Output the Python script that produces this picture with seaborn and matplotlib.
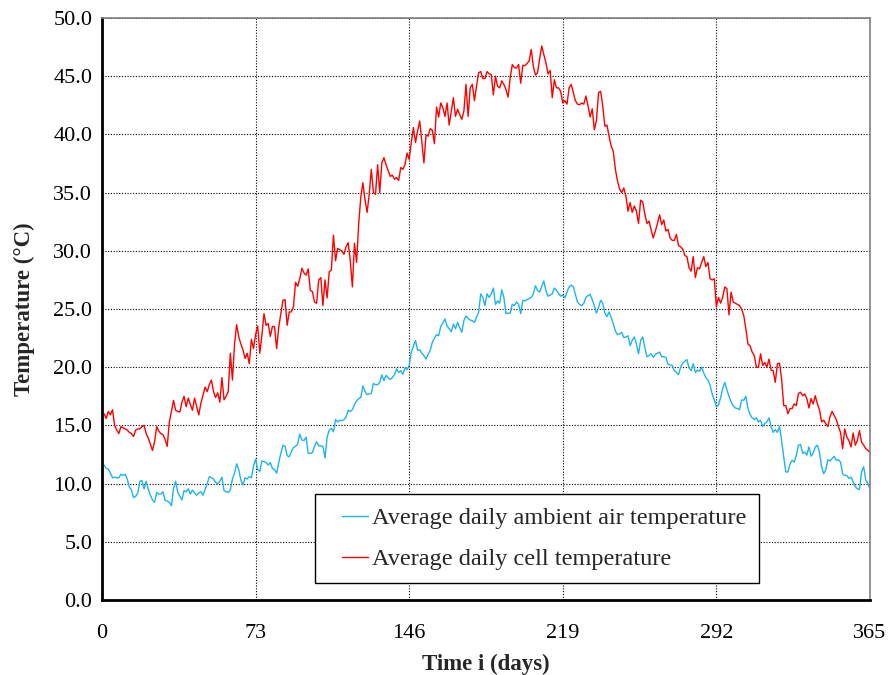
import numpy as np
import pandas as pd
import seaborn as sns
import matplotlib
matplotlib.use("Agg")
import matplotlib.pyplot as plt
from matplotlib.lines import Line2D
from matplotlib.legend_handler import HandlerLine2D

# daily values, day 1 .. 365
ambient_temp = [
    11.6, 11.3, 11.25, 10.9, 10.5, 10.55, 10.5, 10.5, 10.8, 10.7,
    10.8, 10.4, 9.7, 9.45, 8.8, 8.9, 9.2, 10.2, 10.26, 9.55,
    10.2, 9.5, 9.0, 8.6, 8.4, 9.25, 9.1, 9.1, 9.3, 8.55,
    8.5, 8.4, 8.1, 9.6, 10.2, 9.25, 8.9, 8.6, 9.4, 9.3,
    9.55, 9.1, 9.45, 9.2, 9.0, 9.2, 9.3, 9.0, 9.5, 10.0,
    10.6, 10.5, 10.4, 10.1, 10.0, 10.2, 10.55, 9.4, 9.3, 9.25,
    9.45, 10.4, 10.9, 11.7, 11.2, 10.3, 9.9, 10.5, 10.4, 10.6,
    10.5, 11.5, 12.1, 11.2, 11.05, 11.95, 11.9, 11.8, 11.6, 11.8,
    11.3, 11.2, 10.9, 11.8, 12.6, 13.3, 13.2, 12.4, 12.3, 12.75,
    13.1, 13.2, 13.4, 14.25, 13.75, 13.7, 14.0, 12.6, 12.6, 12.65,
    13.2, 13.6, 13.25, 13.25, 13.2, 12.2, 14.0, 14.6, 14.75, 14.45,
    15.5, 15.3, 15.45, 15.4, 15.5, 15.7, 16.3, 16.2, 16.35, 16.8,
    17.1, 17.3, 17.4, 18.4, 17.9, 17.65, 17.7, 17.75, 18.6, 18.5,
    18.5, 18.7, 19.35, 18.85, 19.3, 19.1, 18.95, 19.1, 19.35, 19.85,
    19.55, 19.7, 19.4, 19.95, 19.8, 20.15, 21.3, 21.8, 22.3, 21.45,
    21.5, 21.2, 21.0, 20.7, 21.1, 21.45, 22.15, 22.5, 22.8, 22.7,
    23.5, 23.8, 24.15, 23.55, 23.3, 23.05, 23.7, 23.3, 23.85, 23.4,
    23.0, 24.0, 24.4, 24.2, 24.05, 24.0, 23.85, 24.3, 24.7, 26.3,
    26.0, 25.3, 26.3, 26.0, 26.3, 26.8, 25.4, 25.7, 25.5, 26.65,
    26.0, 24.6, 24.65, 24.65, 25.4, 25.3, 25.6, 25.4, 24.6, 25.75,
    25.7, 25.8, 25.9, 26.0, 26.3, 27.0, 26.6, 26.45, 26.95, 27.4,
    26.55, 26.1, 26.2, 26.3, 26.8, 26.6, 26.35, 26.1, 26.2, 25.95,
    26.45, 26.9, 27.05, 26.95, 26.25, 25.6, 25.4, 25.3, 25.5, 26.0,
    26.15, 26.25, 25.8, 25.3, 24.65, 25.15, 25.75, 25.5, 24.65, 24.35,
    24.75, 24.25, 23.75, 23.1, 22.8, 22.85, 23.0, 22.55, 22.6, 22.7,
    21.85, 22.3, 22.6, 22.0, 21.15, 22.3, 22.6, 21.7, 20.9, 21.0,
    21.15, 20.85, 21.1, 21.2, 21.3, 20.9, 20.9, 20.85, 20.25, 20.2,
    20.15, 19.7, 19.55, 19.35, 20.0, 20.35, 20.5, 20.65, 19.95, 19.7,
    20.3, 19.55, 19.75, 19.65, 20.0, 19.5, 19.1, 18.9, 18.45, 17.7,
    17.2, 16.6, 16.75, 17.4, 18.15, 18.7, 18.05, 17.5, 17.0, 16.7,
    16.5, 16.45, 16.35, 17.2, 17.15, 17.5, 16.45, 15.95, 15.65, 15.5,
    15.65, 15.3, 15.45, 14.9, 15.15, 15.3, 15.65, 14.9, 14.4, 14.65,
    14.4, 14.9, 13.7, 12.3, 11.0, 11.0, 11.7, 12.0, 11.85, 12.45,
    13.3, 13.35, 12.6, 12.7, 12.45, 13.15, 12.35, 12.6, 13.15, 13.3,
    12.7, 11.45, 10.85, 11.2, 12.05, 11.95, 12.15, 12.35, 12.0, 12.05,
    11.85, 10.85, 10.7, 10.7, 10.45, 10.55, 10.15, 9.75, 9.55, 9.5,
    11.0, 11.45, 10.3, 10.0, 9.55,
]

cell_temp = [
    16.0, 15.6, 16.2, 15.9, 16.35, 15.0, 14.6, 14.3, 14.9, 14.8,
    14.7, 14.6, 14.4, 14.3, 14.05, 14.6, 14.7, 14.7, 14.9, 15.0,
    14.3, 13.9, 13.4, 12.85, 13.6, 14.9, 14.5, 14.3, 14.2, 13.8,
    13.2, 15.3, 16.2, 17.15, 16.3, 16.2, 16.15, 17.0, 17.5, 16.6,
    17.35, 16.8, 16.3, 17.35, 16.6, 15.9, 16.9, 17.6, 18.3, 17.9,
    18.5, 18.9, 17.9, 17.4, 17.8, 17.0, 19.1, 17.2, 17.5, 17.9,
    21.2, 18.9, 22.0, 23.65, 22.6, 22.0, 21.5, 20.75, 21.2, 20.3,
    22.4, 21.6, 22.8, 23.55, 21.2, 22.75, 24.6, 23.6, 23.75, 22.65,
    23.5, 23.5, 21.6, 23.45, 24.6, 25.75, 25.8, 23.6, 24.75, 24.75,
    25.2, 27.3, 26.95, 27.6, 28.5, 28.1, 27.9, 28.45, 26.6, 26.5,
    25.6, 25.5, 27.5, 27.7, 25.3, 27.5, 25.95, 28.2, 28.35, 31.35,
    29.15, 30.2, 30.1, 30.0, 29.7, 30.35, 30.7, 29.15, 26.9, 30.65,
    29.0, 32.3, 34.6, 35.85, 34.4, 33.3, 34.85, 37.0, 35.0, 34.85,
    37.4, 35.0, 37.55, 38.0, 37.4, 36.9, 36.4, 36.5, 36.15, 36.3,
    36.05, 37.15, 37.0, 37.4, 38.4, 37.85, 39.3, 40.6, 39.3, 40.3,
    41.15, 39.4, 37.55, 39.95, 39.85, 40.5, 40.35, 39.2, 42.35, 41.5,
    42.7, 42.3, 41.55, 42.7, 40.8, 42.0, 43.15, 41.55, 42.15, 41.7,
    41.3, 42.0, 44.3, 41.55, 44.0, 44.3, 42.9, 44.15, 45.3, 45.4,
    44.8, 44.8, 45.4, 45.2, 45.15, 43.4, 45.0, 44.15, 44.0, 44.6,
    44.3, 43.85, 43.2, 44.85, 46.0, 45.75, 45.7, 46.0, 44.4, 45.95,
    45.9, 46.1, 46.3, 47.3, 45.85, 45.1, 45.3, 46.5, 47.6, 46.85,
    46.15, 45.2, 45.5, 43.15, 44.7, 44.0, 44.0, 43.7, 42.7, 42.9,
    42.6, 44.0, 44.3, 43.6, 42.9, 42.6, 42.55, 42.7, 42.6, 43.3,
    42.45, 41.5, 42.2, 40.4, 41.2, 43.6, 43.7, 42.45, 40.7, 40.8,
    39.85, 39.0, 38.55, 37.0, 36.0, 35.3, 35.0, 35.4, 34.7, 33.4,
    34.15, 33.3, 33.85, 33.4, 32.35, 34.35, 34.2, 33.15, 32.35, 32.55,
    31.8, 31.1, 31.7, 32.35, 33.1, 32.25, 32.65, 31.7, 31.85, 31.1,
    30.9, 30.9, 31.4, 30.45, 30.35, 30.15, 29.6, 29.5, 28.55, 28.25,
    29.5, 27.7, 28.55, 28.45, 29.0, 29.5, 28.65, 29.0, 27.6, 27.5,
    27.6, 25.2, 26.0, 25.5, 26.0, 26.9, 26.75, 24.5, 26.45, 25.6,
    25.5, 25.4, 25.3, 25.0, 24.45, 23.3, 22.0, 21.85, 21.3, 21.0,
    20.0, 20.0, 21.15, 20.15, 20.4, 20.0, 20.7, 19.75, 19.7, 18.7,
    20.3, 20.35, 19.0, 16.7, 16.7, 16.0, 16.45, 16.45, 16.85, 16.7,
    17.75, 17.85, 17.55, 17.7, 17.3, 16.5, 17.3, 16.85, 17.55, 16.85,
    16.35, 15.3, 15.45, 15.15, 14.9, 15.75, 16.2, 15.85, 15.5, 14.9,
    14.4, 13.0, 14.7, 14.0, 13.7, 13.15, 14.35, 13.3, 13.7, 14.55,
    13.55, 13.3, 13.0, 12.85, 12.7,
]

series_names = ["Average daily ambient air temperature", "Average daily cell temperature"]
line_colors = ["#1eb4ec", "#ff0000"]
x_ticks = [0, 73, 146, 219, 292, 365]
y_ticks = [0, 5, 10, 15, 20, 25, 30, 35, 40, 45, 50]

days = np.arange(1, len(cell_temp) + 1)
df = pd.DataFrame({
    "day": np.concatenate([days, days]),
    "temp": ambient_temp + cell_temp,
    "series": [series_names[0]] * len(ambient_temp) + [series_names[1]] * len(cell_temp),
})

sns.set_style("white")
plt.rcParams["font.family"] = ["Liberation Serif", "DejaVu Serif"]

fig = plt.figure(figsize=(8.9, 6.75), dpi=100)
ax = fig.add_axes([0.1146, 0.1111, 0.8629, 0.8622])

sns.lineplot(data=df, x="day", y="temp", hue="series", hue_order=series_names,
             palette=line_colors, linewidth=1.0, ax=ax)

ax.set_xlim(0, 365)
ax.set_ylim(0, 50)
ax.set_xticks(x_ticks)
ax.set_yticks(y_ticks)
ax.set_yticklabels([f"{v:.1f}" for v in y_ticks])
ax.tick_params(axis="both", labelsize=16, length=5, width=1, color="black",
               direction="out", colors="black")
ax.tick_params(axis="y", pad=2)
ax.tick_params(axis="x", pad=12)

ax.grid(True, color="black", linestyle=(0, (1, 1.5)), linewidth=0.8)
ax.set_axisbelow(True)

for side in ["left", "bottom"]:
    ax.spines[side].set_color("black")
    ax.spines[side].set_linewidth(2)
for side in ["top", "right"]:
    ax.spines[side].set_color("#808080")
    ax.spines[side].set_linewidth(1.2)

ax.set_xlabel("Time i (days)", fontsize=16.5, fontweight="bold", labelpad=8)
ax.set_ylabel("Temperature (°C)", fontsize=16.5, fontweight="bold", labelpad=13)

handles, labels = ax.get_legend_handles_labels()
leg = ax.legend(handles, labels, loc="lower left", bbox_to_anchor=(0.2773, 0.029),
                fontsize=17.5, frameon=True, fancybox=False, edgecolor="black",
                framealpha=1, handlelength=1.66, handletextpad=0.18,
                borderpad=0.52, labelspacing=0.8, borderaxespad=0,
                handler_map={Line2D: HandlerLine2D(xpad=0.6)})
leg.get_frame().set_linewidth(1.0)

fig.savefig("out.png", dpi=100)
